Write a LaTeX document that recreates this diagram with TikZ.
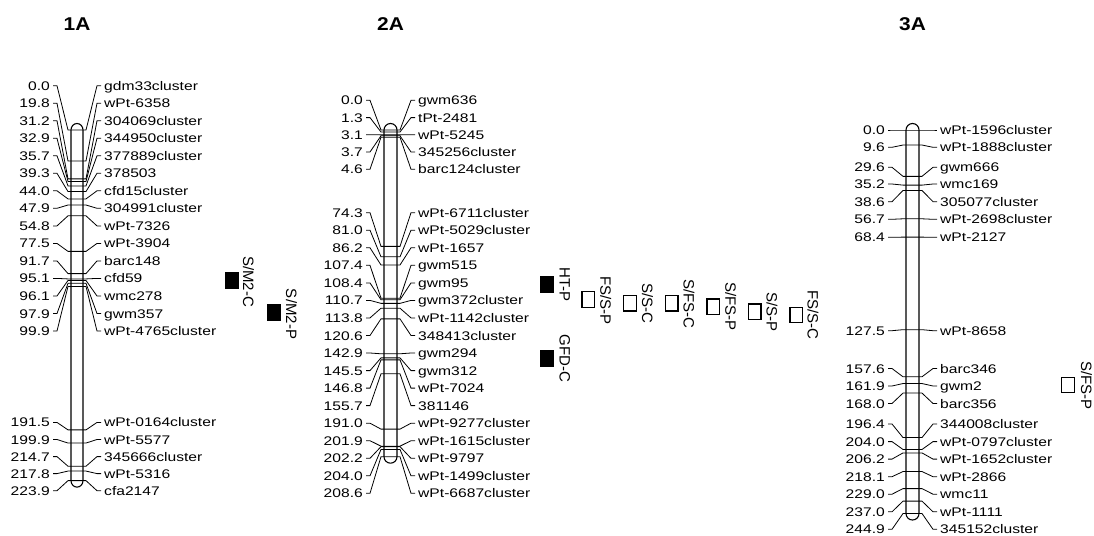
\documentclass[tikz,border=0pt]{standalone}
\usepackage{fontspec}
\setmainfont{Liberation Sans}
\newfontfamily\lblfont[FakeStretch=1.25]{Liberation Sans}
\newfontfamily\ttlfont[FakeStretch=1.13]{Liberation Sans}
\tikzset{
  conn/.style={line width=0.8pt, black},
  barline/.style={line width=1.1pt, black},
  numlbl/.style={font=\lblfont\fontsize{12.5pt}{14pt}\selectfont, inner sep=0pt, text height=9pt, text depth=0pt, anchor=east},
  namelbl/.style={font=\lblfont\fontsize{12.5pt}{14pt}\selectfont, inner sep=0pt, text height=9pt, text depth=0pt, anchor=west},
  ttl/.style={font=\ttlfont\bfseries\fontsize{18.5pt}{20pt}\selectfont, inner sep=0pt, text height=13.3pt, text depth=0pt},
  rotlbl/.style={font=\fontsize{15pt}{17pt}\selectfont, inner sep=0pt, text height=10.7pt, text depth=0pt, rotate=-90},
  sqbox/.style={draw, line width=1.3pt, minimum width=12.5pt, minimum height=15.5pt, inner sep=0pt},
}
\newcommand{\mk}[7]{%
  \pgfmathsetmacro{\ym}{130+1.566*#4}%
  \node[numlbl] (n#1) at (#2-21,#5) {#6};%
  \node[namelbl] (m#1) at (#3+21,#5) {#7};%
  \draw[conn] ([xshift=3pt]n#1.east) -- ([xshift=7pt]n#1.east) -- (#2-3,\ym) -- (#3+3,\ym) -- ([xshift=-7pt]m#1.west) -- ([xshift=-3pt]m#1.west);%
}
\newcommand{\chromobar}[3]{%
  \pgfmathsetmacro{\yb}{130+1.566*#3}%
  \pgfmathsetmacro{\rr}{(#2-#1)/2}%
  \draw[barline] (#1,\yb) -- (#1,130) arc[start angle=180, end angle=360, x radius=\rr, y radius=6.5] -- (#2,\yb) arc[start angle=0, end angle=180, x radius=\rr, y radius=6.5] -- cycle;%
}
\newcommand{\trait}[7]{%
  \node[sqbox, fill=#6] (s#1) at (#2,#3) {};%
  \node[rotlbl] (t#1) at (#4,#5) {#7};%
}
\begin{document}
\begin{tikzpicture}[x=1pt,y=-1pt]
\useasboundingbox[fill=white] (0,0) rectangle (1094,535);
% titles
\node[ttl] (T1) at (77,24.3) {1A};
\node[ttl] (T2) at (390.5,24.3) {2A};
\node[ttl] (T3) at (912.5,24.3) {3A};
% chromosome 1A
\chromobar{71}{83}{223.9}
\mk{a1}{71}{83}{0.0}{85.7}{0.0}{gdm33cluster}
\mk{a2}{71}{83}{19.8}{103.2}{19.8}{wPt-6358}
\mk{a3}{71}{83}{31.2}{120.7}{31.2}{304069cluster}
\mk{a4}{71}{83}{32.9}{138.3}{32.9}{344950cluster}
\mk{a5}{71}{83}{35.7}{155.8}{35.7}{377889cluster}
\mk{a6}{71}{83}{39.3}{173.3}{39.3}{378503}
\mk{a7}{71}{83}{44.0}{190.8}{44.0}{cfd15cluster}
\mk{a8}{71}{83}{47.9}{208.3}{47.9}{304991cluster}
\mk{a9}{71}{83}{54.8}{225.9}{54.8}{wPt-7326}
\mk{a10}{71}{83}{77.5}{243.4}{77.5}{wPt-3904}
\mk{a11}{71}{83}{91.7}{260.9}{91.7}{barc148}
\mk{a12}{71}{83}{95.1}{278.4}{95.1}{cfd59}
\mk{a13}{71}{83}{96.1}{296.0}{96.1}{wmc278}
\mk{a14}{71}{83}{97.9}{313.5}{97.9}{gwm357}
\mk{a15}{71}{83}{99.9}{331.0}{99.9}{wPt-4765cluster}
\mk{a16}{71}{83}{191.5}{422.4}{191.5}{wPt-0164cluster}
\mk{a17}{71}{83}{199.9}{439.5}{199.9}{wPt-5577}
\mk{a18}{71}{83}{214.7}{456.6}{214.7}{345666cluster}
\mk{a19}{71}{83}{217.8}{473.6}{217.8}{wPt-5316}
\mk{a20}{71}{83}{223.9}{490.7}{223.9}{cfa2147}
% chromosome 2A
\chromobar{384}{397}{208.6}
\mk{b1}{384}{397}{0.0}{100.3}{0.0}{gwm636}
\mk{b2}{384}{397}{1.3}{117.6}{1.3}{tPt-2481}
\mk{b3}{384}{397}{3.1}{134.8}{3.1}{wPt-5245}
\mk{b4}{384}{397}{3.7}{152.0}{3.7}{345256cluster}
\mk{b5}{384}{397}{4.6}{169.3}{4.6}{barc124cluster}
\mk{b6}{384}{397}{74.3}{212.7}{74.3}{wPt-6711cluster}
\mk{b7}{384}{397}{81.0}{230.2}{81.0}{wPt-5029cluster}
\mk{b8}{384}{397}{86.2}{247.8}{86.2}{wPt-1657}
\mk{b9}{384}{397}{107.4}{265.3}{107.4}{gwm515}
\mk{b10}{384}{397}{108.4}{282.9}{108.4}{gwm95}
\mk{b11}{384}{397}{110.7}{300.4}{110.7}{gwm372cluster}
\mk{b12}{384}{397}{113.8}{317.9}{113.8}{wPt-1142cluster}
\mk{b13}{384}{397}{120.6}{335.5}{120.6}{348413cluster}
\mk{b14}{384}{397}{142.9}{353.0}{142.9}{gwm294}
\mk{b15}{384}{397}{145.5}{370.6}{145.5}{gwm312}
\mk{b16}{384}{397}{146.8}{388.1}{146.8}{wPt-7024}
\mk{b17}{384}{397}{155.7}{405.6}{155.7}{381146}
\mk{b18}{384}{397}{191.0}{423.2}{191.0}{wPt-9277cluster}
\mk{b19}{384}{397}{201.9}{440.7}{201.9}{wPt-1615cluster}
\mk{b20}{384}{397}{202.2}{458.3}{202.2}{wPt-9797}
\mk{b21}{384}{397}{204.0}{475.8}{204.0}{wPt-1499cluster}
\mk{b22}{384}{397}{208.6}{493.3}{208.6}{wPt-6687cluster}
% chromosome 3A
\chromobar{906}{919}{244.9}
\mk{c1}{906}{919}{0.0}{130.0}{0.0}{wPt-1596cluster}
\mk{c2}{906}{919}{9.6}{147.3}{9.6}{wPt-1888cluster}
\mk{c3}{906}{919}{29.6}{167.3}{29.6}{gwm666}
\mk{c4}{906}{919}{35.2}{184.0}{35.2}{wmc169}
\mk{c5}{906}{919}{38.6}{201.7}{38.6}{305077cluster}
\mk{c6}{906}{919}{56.7}{219.3}{56.7}{wPt-2698cluster}
\mk{c7}{906}{919}{68.4}{237.3}{68.4}{wPt-2127}
\mk{c8}{906}{919}{127.5}{330.7}{127.5}{wPt-8658}
\mk{c9}{906}{919}{157.6}{368.5}{157.6}{barc346}
\mk{c10}{906}{919}{161.9}{386.0}{161.9}{gwm2}
\mk{c11}{906}{919}{168.0}{403.5}{168.0}{barc356}
\mk{c12}{906}{919}{196.4}{424.0}{196.4}{344008cluster}
\mk{c13}{906}{919}{204.0}{441.6}{204.0}{wPt-0797cluster}
\mk{c14}{906}{919}{206.2}{459.1}{206.2}{wPt-1652cluster}
\mk{c15}{906}{919}{218.1}{476.7}{218.1}{wPt-2866}
\mk{c16}{906}{919}{229.0}{494.2}{229.0}{wmc11}
\mk{c17}{906}{919}{237.0}{511.8}{237.0}{wPt-1111}
\mk{c18}{906}{919}{244.9}{529.3}{244.9}{345152cluster}
% traits
\trait{1}{232}{280.5}{248.5}{281.7}{black}{S/M2-C}
\trait{2}{274}{312.3}{291.5}{314}{black}{S/M2-P}
\trait{3}{546.7}{284.7}{565}{284.5}{black}{HT-P}
\trait{4}{546.7}{358.7}{565}{358.5}{black}{GFD-C}
\trait{5}{588.3}{299.5}{605.8}{300.8}{white}{FS/S-P}
\trait{6}{630}{303.3}{647.5}{303.3}{white}{S/S-C}
\trait{7}{671.7}{303.3}{689}{304}{white}{S/FS-C}
\trait{8}{713.3}{306.7}{730.8}{306.7}{white}{S/FS-P}
\trait{9}{754.7}{311.7}{772}{311.7}{white}{S/S-P}
\trait{10}{796.3}{315}{813}{314.7}{white}{FS/S-C}
\trait{11}{1068}{385}{1086.5}{385.8}{white}{S/FS-P}
\end{tikzpicture}
\end{document}
